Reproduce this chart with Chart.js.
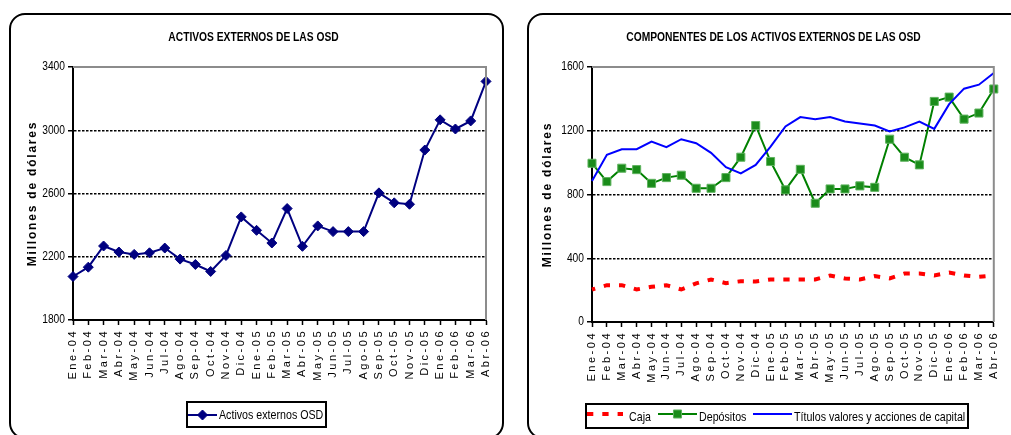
<!DOCTYPE html>
<html><head><meta charset="utf-8">
<script src="https://cdn.jsdelivr.net/npm/chart.js@4.4.1/dist/chart.umd.min.js"></script>
<style>
html,body{margin:0;padding:0;background:#fff;width:1011px;height:435px;overflow:hidden;position:relative}
.panel{position:absolute;border:2px solid #000;border-radius:16px;box-sizing:border-box}
canvas{position:absolute;top:0}
</style></head><body>
<div class="panel" style="left:9px;top:13px;width:495px;height:426px"></div>
<div class="panel" style="left:527px;top:13px;width:520px;height:426px"></div>
<canvas id="c1" width="510" height="435" style="left:0"></canvas>
<canvas id="c2" width="501" height="435" style="left:510px"></canvas>
<script>
// ---- data ----
const categories = ['Ene-04','Feb-04','Mar-04','Abr-04','May-04','Jun-04','Jul-04','Ago-04','Sep-04','Oct-04','Nov-04','Dic-04',
  'Ene-05','Feb-05','Mar-05','Abr-05','May-05','Jun-05','Jul-05','Ago-05','Sep-05','Oct-05','Nov-05','Dic-05',
  'Ene-06','Feb-06','Mar-06','Abr-06'];
const activosExternos = [2075,2134,2268,2230,2215,2225,2255,2185,2151,2107,2208,2452,2367,2287,2505,2266,2395,2359,2359,2359,2604,2541,2532,2875,3066,3008,3059,3309];
const caja = [204,231,231,204,221,231,204,242,267,244,256,254,267,267,267,267,292,273,267,288,273,304,304,292,310,292,283,292];
const depositos = [996,881,965,956,870,906,921,839,839,906,1034,1233,1007,829,958,745,835,835,854,845,1147,1034,986,1384,1411,1273,1311,1462];
const titulos = [885,1049,1084,1084,1132,1097,1147,1122,1061,971,933,986,1101,1227,1286,1273,1286,1258,1246,1233,1195,1221,1258,1212,1367,1464,1489,1562];
const leftTicks = [1800,2200,2600,3000,3400];
const rightTicks = [0,400,800,1200,1600];
const leftTitle = 'ACTIVOS EXTERNOS DE LAS OSD';
const rightTitle = 'COMPONENTES DE LOS ACTIVOS EXTERNOS DE LAS OSD';
const yAxisTitle = 'Millones de dólares';

const ARIAL = "'Liberation Sans',Arial,sans-serif";
const NARROW_X = 0.82;

function patchSpacing(scale, method, sp){
  if (!scale || scale['_p_'+method]) return;
  const orig = scale[method];
  scale[method] = function(){
    const ctx = this.ctx; const prev = ctx.letterSpacing;
    ctx.letterSpacing = sp;
    const r = orig.apply(this, arguments);
    ctx.letterSpacing = prev || '0px';
    return r;
  };
  scale['_p_'+method] = true;
}
function patchNarrowY(scale, sx){
  if (!scale || scale._pn) return;
  const orig = scale.drawLabels;
  scale.drawLabels = function(area){
    const ctx = this.ctx;
    const ax = this.right - this.options.grid.tickLength - this.options.ticks.padding;
    ctx.save(); ctx.translate(ax, 0); ctx.scale(sx, 1); ctx.translate(-ax, 0);
    orig.call(this, area);
    ctx.restore();
  };
  scale._pn = true;
}
function narrowText(ctx, text, x, y, align, font){
  ctx.save();
  ctx.font = font; ctx.textAlign = align; ctx.textBaseline = 'middle'; ctx.fillStyle = '#000';
  ctx.translate(x, y); ctx.scale(NARROW_X, 1);
  ctx.fillText(text, 0, 0);
  ctx.restore();
}

function drawMarker(ctx, style, x, y, r, fill, stroke, bw){
  ctx.save();
  ctx.fillStyle = fill; ctx.strokeStyle = stroke; ctx.lineWidth = bw; ctx.setLineDash([]);
  ctx.beginPath();
  if (style === 'rectRot'){
    ctx.moveTo(x, y - r); ctx.lineTo(x + r, y); ctx.lineTo(x, y + r); ctx.lineTo(x - r, y); ctx.closePath();
  } else {
    const s = r * Math.SQRT1_2; ctx.rect(x - s, y - s, 2*s, 2*s);
  }
  ctx.fill(); if (bw) ctx.stroke();
  ctx.restore();
}

const decor = {
  id: 'decor',
  afterLayout(chart){
    patchSpacing(chart.scales.x, 'drawLabels', '2.5px');
    patchSpacing(chart.scales.y, 'drawTitle', '1.8px');
    patchNarrowY(chart.scales.y, NARROW_X);
  },
  afterDraw(chart, args, o){
    const ctx = chart.ctx, a = chart.chartArea;
    ctx.save();
    ctx.strokeStyle = '#8c8c8c'; ctx.lineWidth = 2;
    ctx.beginPath(); ctx.moveTo(a.left, a.top); ctx.lineTo(a.right, a.top); ctx.lineTo(a.right, a.bottom); ctx.stroke();
    narrowText(ctx, o.title, o.titleX, o.titleY, 'center', 'bold 12.5px ' + ARIAL);
    const b = o.box;
    ctx.lineWidth = 2; ctx.strokeStyle = '#000';
    ctx.strokeRect(b.x + 1, b.y + 1, b.w - 2, b.h - 2);
    o.items.forEach(it => {
      const ds = chart.data.datasets[it.index];
      ctx.save();
      ctx.strokeStyle = ds.borderColor; ctx.lineWidth = ds.borderWidth;
      ctx.setLineDash(ds.borderDash || []);
      ctx.beginPath(); ctx.moveTo(it.x1, it.y); ctx.lineTo(it.x2, it.y); ctx.stroke();
      ctx.restore();
      if (ds.pointRadius > 0) drawMarker(ctx, ds.pointStyle, (it.x1 + it.x2)/2, it.y, ds.pointRadius, ds.pointBackgroundColor, ds.pointBorderColor, ds.pointBorderWidth);
      narrowText(ctx, ds.label, it.tx, it.ty, 'left', '13px ' + ARIAL);
    });
    ctx.restore();
  }
};

function scalesFor(ticks, yWidth){
  const mn = ticks[0], mx = ticks[ticks.length-1];
  return {
    x: {
      type: 'category', offset: false,
      afterFit: s => { s.height = 70; },
      grid: { display: true, drawOnChartArea: false, drawTicks: true, tickLength: 5, tickColor: '#000', tickWidth: 1.5, color: '#000' },
      border: { display: true, color: '#000', width: 2 },
      ticks: { autoSkip: false, maxRotation: 90, minRotation: 90, padding: 4, color: '#000', font: { family: ARIAL, size: 11 } }
    },
    y: {
      min: mn, max: mx,
      afterFit: s => { s.width = yWidth; },
      afterBuildTicks: s => { s.ticks = ticks.map(v => ({ value: v })); },
      grid: {
        drawTicks: true, tickLength: 5, tickColor: '#000', tickWidth: 1.5, lineWidth: 1.5,
        color: c => (c.tick && (c.tick.value === mn || c.tick.value === mx)) ? 'rgba(0,0,0,0)' : '#000'
      },
      border: { display: true, color: '#000', width: 2, dash: [2.5, 1.5] },
      ticks: { padding: 3, color: '#000', font: { family: ARIAL, size: 12.5 }, callback: v => String(v) },
      title: { display: true, text: yAxisTitle, color: '#000', font: { family: ARIAL, size: 12, weight: 'bold' }, padding: { top: 4, bottom: 4 } }
    }
  };
}

Chart.defaults.animation = false;

new Chart(document.getElementById('c1'), {
  type: 'line',
  data: {
    labels: categories,
    datasets: [{
      label: 'Activos externos OSD', data: activosExternos,
      borderColor: '#000080', borderWidth: 2, tension: 0,
      pointStyle: 'rectRot', pointRadius: 5, pointBackgroundColor: '#000080', pointBorderColor: '#000080', pointBorderWidth: 1
    }]
  },
  options: {
    responsive: false, animation: false, events: [],
    layout: { padding: { left: 21, top: 67, right: 24, bottom: 45 } },
    scales: scalesFor(leftTicks, 52),
    plugins: {
      legend: { display: false }, tooltip: { enabled: false },
      decor: {
        title: leftTitle, titleX: 253.5, titleY: 38,
        box: { x: 186, y: 401, w: 141, h: 27 },
        items: [{ index: 0, x1: 188, x2: 217, y: 415, tx: 219, ty: 415.5 }]
      }
    }
  },
  plugins: [decor]
});

new Chart(document.getElementById('c2'), {
  type: 'line',
  data: {
    labels: categories,
    datasets: [
      { label: 'Caja', data: caja, borderColor: '#ff0000', borderWidth: 4, borderDash: [6.3, 9], borderDashOffset: 3,
        borderCapStyle: 'butt', pointRadius: 0, tension: 0, order: 3 },
      { label: 'Depósitos', data: depositos, borderColor: '#008000', borderWidth: 2, tension: 0,
        pointStyle: 'rect', pointRadius: 5.7, pointBackgroundColor: '#1a8c1a', pointBorderColor: '#5fb35f', pointBorderWidth: 1, order: 2 },
      { label: 'Títulos valores y acciones de capital', data: titulos, borderColor: '#0000ff', borderWidth: 2, pointRadius: 0, tension: 0, order: 1 }
    ]
  },
  options: {
    responsive: false, animation: false, events: [],
    layout: { padding: { left: 26, top: 67, right: 8, bottom: 43 } },
    scales: scalesFor(rightTicks, 56),
    plugins: {
      legend: { display: false }, tooltip: { enabled: false },
      decor: {
        title: rightTitle, titleX: 263.5, titleY: 37.5,
        box: { x: 75, y: 403, w: 384, h: 26 },
        items: [
          { index: 0, x1: 77, x2: 113, y: 414, tx: 119, ty: 417 },
          { index: 1, x1: 148, x2: 187, y: 414, tx: 189, ty: 417 },
          { index: 2, x1: 243, x2: 282, y: 414, tx: 284, ty: 417 }
        ]
      }
    }
  },
  plugins: [decor]
});
</script>
</body></html>
